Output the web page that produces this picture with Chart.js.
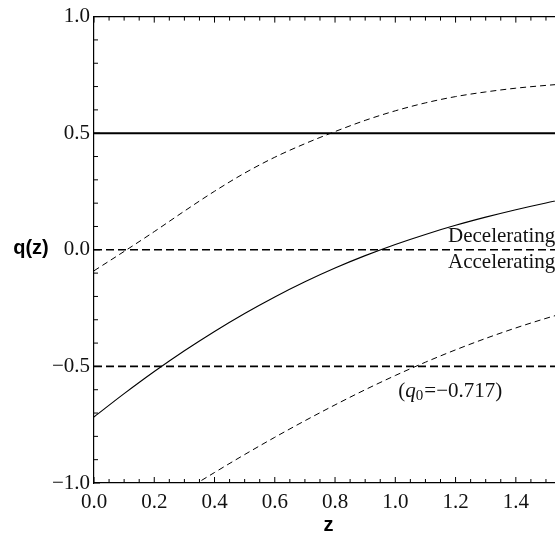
<!DOCTYPE html>
<html><head><meta charset="utf-8">
<script src="https://cdn.jsdelivr.net/npm/chart.js@4.4.1/dist/chart.umd.min.js"></script>
<style>html,body{margin:0;padding:0;background:#fff;overflow:hidden}#wrap{width:555px;height:537px;position:relative}</style>
</head><body><div id="wrap"><canvas id="c" width="555" height="537"></canvas></div>
<script>
// redshift grid
const zValues = [0,0.1,0.2,0.3,0.4,0.5,0.6,0.7,0.8,0.9,1.0,1.1,1.2,1.3,1.4,1.5,1.6];
// best-fit q(z)
const qBest = [-0.717,-0.617,-0.522,-0.433,-0.35,-0.273,-0.202,-0.137,-0.078,-0.025,0.023,0.066,0.105,0.14,0.172,0.201,0.227];
// upper bound (dashed)
const qUpper = [-0.09,-0.007,0.078,0.166,0.251,0.329,0.397,0.455,0.507,0.555,0.596,0.63,0.657,0.677,0.693,0.705,0.715];
// lower bound (dashed)
const zLower = [0.3,0.4,0.5,0.6,0.7,0.8,0.9,1.0,1.1,1.2,1.3,1.4,1.5,1.6];
const qLower = [-1.034,-0.955,-0.878,-0.804,-0.733,-0.665,-0.6,-0.539,-0.482,-0.429,-0.38,-0.335,-0.294,-0.257];
// reference levels
const refSolid = [0.5];
const refDashed = [0, -0.5];
// tick labels
const xTicks = [0,0.2,0.4,0.6,0.8,1.0,1.2,1.4];
const yTicks = [-1,-0.5,0,0.5,1];
const xLabel = 'z';
const yLabel = 'q(z)';
const decelText = 'Decelerating';
const accelText = 'Accelerating';
const q0Value = '−0.717';

const X_MIN = 0, X_MAX = 1.53, Y_MIN = -1, Y_MAX = 1;
const SERIF = '"Liberation Serif", "Times New Roman", serif';

const pts = (xs, ys) => xs.map((x, i) => ({x, y: ys[i]}));
const hline = v => [{x: X_MIN, y: v}, {x: 1.6, y: v}];

const datasets = [];
refSolid.forEach(v => datasets.push({data: hline(v), borderColor: '#000', borderWidth: 2, pointRadius: 0, tension: 0}));
refDashed.forEach(v => datasets.push({data: hline(v), borderColor: '#000', borderWidth: 1.6, borderDash: [8,4], pointRadius: 0, tension: 0}));
datasets.push({data: pts(zValues, qBest), borderColor: '#000', borderWidth: 1.1, pointRadius: 0, cubicInterpolationMode: 'monotone'});
datasets.push({data: pts(zValues, qUpper), borderColor: '#000', borderWidth: 1, borderDash: [6,4], pointRadius: 0, cubicInterpolationMode: 'monotone'});
datasets.push({data: pts(zLower, qLower), borderColor: '#000', borderWidth: 1, borderDash: [6,4], pointRadius: 0, cubicInterpolationMode: 'monotone'});

const fmt = v => (v < 0 ? '−' : '') + Math.abs(v).toFixed(1);

const decor = {
  id: 'decor',
  afterDatasetsDraw(chart) {
    const ctx = chart.ctx, xs = chart.scales.x, ys = chart.scales.y, a = chart.chartArea;
    ctx.save();
    ctx.strokeStyle = '#000';
    ctx.lineWidth = 1.2;
    // top border
    ctx.beginPath(); ctx.moveTo(a.left, a.top); ctx.lineTo(a.right + 5, a.top); ctx.stroke();
    // inward ticks on x (bottom and top)
    ctx.lineWidth = 1;
    for (let i = 0; i * 0.05 <= X_MAX + 1e-9; i++) {
      const v = i * 0.05, px = xs.getPixelForValue(v), len = (i % 4 === 0) ? 6 : 4;
      ctx.beginPath();
      ctx.moveTo(px, a.bottom); ctx.lineTo(px, a.bottom - len);
      ctx.moveTo(px, a.top); ctx.lineTo(px, a.top + len);
      ctx.stroke();
    }
    // inward ticks on y (left)
    for (let i = 0; i <= 20; i++) {
      const v = Y_MIN + i * 0.1, py = ys.getPixelForValue(v), len = (i % 5 === 0) ? 6 : 4;
      ctx.beginPath(); ctx.moveTo(a.left, py); ctx.lineTo(a.left + len, py); ctx.stroke();
    }
    // annotations
    ctx.fillStyle = '#111';
    ctx.font = '21px ' + SERIF;
    ctx.textAlign = 'left'; ctx.textBaseline = 'alphabetic';
    const y0 = ys.getPixelForValue(0);
    const tx = xs.getPixelForValue(1.175);
    ctx.fillText(decelText, tx, y0 - 8);
    ctx.fillText(accelText, tx, y0 + 18);
    // (q0=-0.717)
    let qx = xs.getPixelForValue(1.01);
    const qy = ys.getPixelForValue(-0.5) + 31;
    ctx.fillText('(', qx, qy); qx += ctx.measureText('(').width;
    ctx.font = 'italic 21px ' + SERIF;
    ctx.fillText('q', qx, qy); qx += ctx.measureText('q').width;
    ctx.font = '15px ' + SERIF;
    ctx.fillText('0', qx, qy + 3); qx += ctx.measureText('0').width + 1;
    ctx.font = '21px ' + SERIF;
    ctx.fillText('=' + q0Value + ')', qx, qy);
    // axis titles
    ctx.fillStyle = '#000';
    ctx.font = 'bold 20px "Liberation Sans", Arial, sans-serif';
    ctx.textAlign = 'center'; ctx.textBaseline = 'middle';
    ctx.fillText(yLabel, 31, y0 - 1);
    ctx.fillText(xLabel, (a.left + chart.width) / 2 + 4, 525);
    ctx.restore();
  }
};

new Chart(document.getElementById('c'), {
  type: 'line',
  data: {datasets},
  options: {
    responsive: false,
    animation: false,
    events: [],
    layout: {padding: {top: 15, right: 0, left: 0, bottom: 0}},
    plugins: {legend: {display: false}, tooltip: {enabled: false}},
    scales: {
      x: {
        type: 'linear', position: 'bottom', min: X_MIN, max: X_MAX,
        grid: {display: false, drawTicks: false},
        border: {display: true, color: '#000', width: 1.2},
        afterBuildTicks: s => { s.ticks = xTicks.map(v => ({value: v})); },
        afterFit: s => { s.height = 54; },
        ticks: {callback: v => fmt(v), padding: 7, maxRotation: 0, autoSkip: false,
          color: '#111', font: {family: SERIF, size: 21}}
      },
      y: {
        type: 'linear', min: Y_MIN, max: Y_MAX,
        grid: {display: false, drawTicks: false},
        border: {display: true, color: '#000', width: 1.2},
        afterBuildTicks: s => { s.ticks = yTicks.map(v => ({value: v})); },
        afterFit: s => { s.width = 94; },
        ticks: {callback: v => fmt(v), padding: 4, autoSkip: false,
          color: '#111', font: {family: SERIF, size: 21}}
      }
    }
  },
  plugins: [decor]
});
</script>
</body></html>
